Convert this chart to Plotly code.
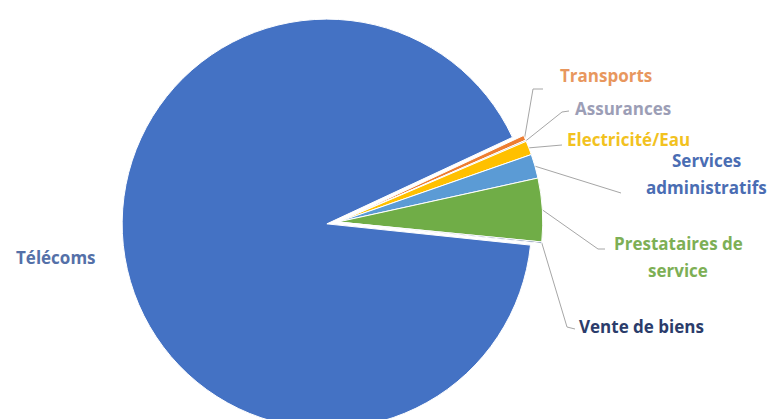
import math
import plotly.graph_objects as go

# ---- data ----
categories = ["Transports", "Assurances", "Electricité/Eau", "Services administratifs",
              "Prestataires de service", "Vente de biens", "Télécoms"]
values = [0.4, 0.1, 1.1, 1.9, 5.0, 0.1, 91.4]
label_lines = [["Transports"], ["Assurances"], ["Electricité/Eau"], ["Services", "administratifs"],
               ["Prestataires de", "service"], ["Vente de biens"], ["Télécoms"]]

# ---- styles / layout ----
slice_colors = ["#ED7D31", "#A5A5A5", "#FFC000", "#5B9BD5", "#70AD47", "#264478", "#4472C4"]
text_colors = ["#E8975E", "#9C9EB6", "#F2C21F", "#4A6DB3", "#7DAF55", "#2B3C6B", "#5470A8"]
pulls = [0, 0, 0, 0, 0, 0, 0.055]
W, H = 769, 440
apex = (338, 222)      # pie centre in pixels
half = 216             # half size of pie domain (pixels)
rotation = 65
# label anchor (x, y of first line, xanchor) in pixels; leader path points
label_anchor = [(558, 75, "left"), (573, 108, "left"), (565, 139, "left"), (706, 160, "center"),
                (678, 243, "center"), (577, 326, "left"), (56, 257, "center")]
line_gap = 27
leader_pts = [[(533, 89), (543, 89)], [(562, 112), (569, 111)], [(562, 145)], [(621, 193)],
              [(598, 249), (605, 249)], [(567, 327), (575, 329)], []]

dom_x = [(apex[0] - half) / W, (apex[0] + half) / W]
dom_y = [max(0.0, 1 - (apex[1] + half) / H), min(1.0, 1 - (apex[1] - half) / H)]

fig = go.Figure()
fig.add_trace(go.Pie(
    labels=categories, values=values, sort=False, direction="clockwise",
    rotation=rotation, pull=pulls,
    marker=dict(colors=slice_colors, line=dict(color="white", width=1)),
    textinfo="none", hoverinfo="label+percent", showlegend=False,
    domain=dict(x=dom_x, y=dom_y),
))

R = half / (1 + max(pulls))
total = sum(values)
cum = 0.0
for i, v in enumerate(values):
    mid = rotation + (cum + v / 2) / total * 360.0
    cum += v
    a = math.radians(mid)
    ex, ey = apex[0] + R * math.sin(a), apex[1] - R * math.cos(a)
    if leader_pts[i]:
        xs = [ex] + [p[0] for p in leader_pts[i]]
        ys = [ey] + [p[1] for p in leader_pts[i]]
        fig.add_trace(go.Scatter(x=xs, y=ys, mode="lines", line=dict(color="#A6A6A6", width=1),
                                 hoverinfo="skip", showlegend=False))
    lx, ly, anc = label_anchor[i]
    for k, txt in enumerate(label_lines[i]):
        fig.add_annotation(x=lx, y=ly + k * line_gap, xref="x", yref="y",
                           text=txt, showarrow=False, xanchor=anc, yanchor="middle",
                           font=dict(family="Open Sans", size=17, color=text_colors[i], weight="bold"))

fig.update_layout(
    width=W, height=H, margin=dict(l=0, r=0, t=0, b=0),
    paper_bgcolor="white", plot_bgcolor="rgba(0,0,0,0)",
    xaxis=dict(range=[0, W], visible=False, fixedrange=True),
    yaxis=dict(range=[H, 0], visible=False, fixedrange=True),
)
fig.write_html("out.html", config={"displayModeBar": False},
               post_script="document.body.style.margin='0';document.body.style.overflow='hidden';")
